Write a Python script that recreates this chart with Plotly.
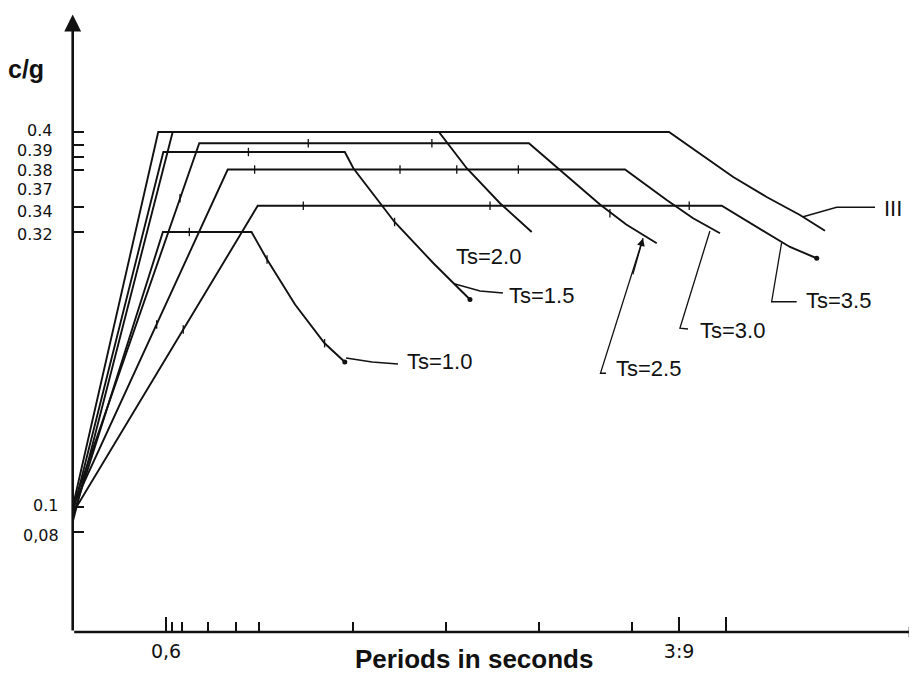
import plotly.graph_objects as go

# ---------------- data (period T in s, c/g) ----------------
t_10 = [0, 0.58, 1.15, 1.25, 1.43, 1.62, 1.75]
c_10 = [0.092, 0.32, 0.32, 0.298, 0.262, 0.231, 0.216]

t_15 = [0, 0.583, 1.75, 1.805, 2.07, 2.32, 2.555]
c_15 = [0.095, 0.384, 0.384, 0.371, 0.328, 0.295, 0.266]

t_20 = [0, 0.55, 2.355, 2.534, 2.748, 2.952]
c_20 = [0.10, 0.40, 0.40, 0.371, 0.343, 0.32]

t_25 = [0, 0.814, 2.934, 3.177, 3.391, 3.56, 3.756]
c_25 = [0.10, 0.391, 0.391, 0.365, 0.342, 0.326, 0.311]

t_30 = [0, 0.997, 3.552, 3.82, 3.99, 4.163]
c_30 = [0.10, 0.37, 0.37, 0.3456, 0.331, 0.319]

t_35 = [0, 1.19, 4.174, 4.463, 4.613, 4.785]
c_35 = [0.095, 0.341, 0.341, 0.319, 0.308, 0.299]

t_III = [0, 0.643, 3.835, 4.034, 4.248, 4.463, 4.677, 4.838]
c_III = [0.088, 0.40, 0.40, 0.383, 0.364, 0.348, 0.3336, 0.321]

# small computed-point marks on the curves
mk_10_t = [0.75, 1.25, 1.62]
mk_10_c = [0.32, 0.298, 0.231]
mk_15_t = [1.13, 2.07]
mk_15_c = [0.384, 0.328]
mk_25_t = [0.69, 1.515, 2.31, 3.455]
mk_25_c = [0.347, 0.391, 0.391, 0.335]
mk_30_t = [0.54, 1.17, 2.105, 2.47, 2.866]
mk_30_c = [0.246, 0.37, 0.37, 0.37, 0.37]
mk_35_t = [0.711, 1.483, 2.684, 3.965]
mk_35_c = [0.242, 0.341, 0.341, 0.341]

# axis ticks
y_tick_vals = [0.4, 0.39, 0.38, 0.37, 0.34, 0.32, 0.1, 0.08]
y_tick_text = ["0.4", "0.39", "0.38", "0.37", "0.34", "0.32", "0.1", "0,08"]
x_major_vals = [0.6, 3.9, 4.2]
x_major_text = ["0,6", "3:9", ""]
x_minor_vals = [0.64, 0.70, 0.87, 1.05, 1.2, 1.8, 2.4, 3.0, 3.6]

curve_names = ["Ts=1.0", "Ts=1.5", "Ts=2.0", "Ts=2.5", "Ts=3.0", "Ts=3.5", "III"]

# ---------------- figure ----------------
fig = go.Figure()
BLACK = "#111111"

curves = [(t_10, c_10), (t_15, c_15), (t_20, c_20), (t_25, c_25),
          (t_30, c_30), (t_35, c_35), (t_III, c_III)]
for name, (tt, cc) in zip(curve_names, curves):
    fig.add_trace(go.Scatter(x=tt, y=cc, mode="lines", name=name,
                             line=dict(color=BLACK, width=1.9),
                             showlegend=False, hoverinfo="skip"))

for tt, cc in [(mk_10_t, mk_10_c), (mk_15_t, mk_15_c), (mk_25_t, mk_25_c),
               (mk_30_t, mk_30_c), (mk_35_t, mk_35_c)]:
    fig.add_trace(go.Scatter(x=tt, y=cc, mode="markers", showlegend=False,
                             marker=dict(symbol="line-ns", size=6,
                                         line=dict(color=BLACK, width=1.3)),
                             hoverinfo="skip"))

# end dots
end_t = [t_10[-1], t_15[-1], t_35[-1]]
end_c = [c_10[-1], c_15[-1], c_35[-1]]
fig.add_trace(go.Scatter(x=end_t, y=end_c, mode="markers", showlegend=False,
                         marker=dict(symbol="circle", size=5, color=BLACK),
                         hoverinfo="skip"))

# leader lines (data coordinates)
leaders = [
    ([1.758, 1.925, 2.092], [0.2192, 0.216, 0.2144]),          # Ts=1.0
    ([2.459, 2.62, 2.767], [0.2784, 0.2728, 0.2712]),          # Ts=1.5
    ([3.668, 3.394, 3.43], [0.315, 0.207, 0.207]),              # Ts=2.5
    ([4.098, 3.905, 3.957], [0.3208, 0.243, 0.2424]),          # Ts=3.0
    ([4.559, 4.495, 4.656], [0.3114, 0.2642, 0.2642]),         # Ts=3.5
    ([4.698, 4.913, 5.16], [0.3322, 0.3398, 0.3398]),          # III
]
for lx, ly in leaders:
    fig.add_trace(go.Scatter(x=lx, y=ly, mode="lines", showlegend=False,
                             line=dict(color=BLACK, width=1.3),
                             hoverinfo="skip"))

# curve labels
label_pos = {
    "Ts=1.0": (2.362, 0.2162),
    "Ts=1.5": (3.012, 0.2696),
    "Ts=2.0": (2.677, 0.3002),
    "Ts=2.5": (3.706, 0.211),
    "Ts=3.0": (4.246, 0.2416),
    "Ts=3.5": (4.922, 0.2656),
    "III": (5.275, 0.339),
}
annotations = []
for name in curve_names:
    x, y = label_pos[name]
    annotations.append(dict(x=x, y=y, xref="x", yref="y", text=name,
                            showarrow=False,
                            font=dict(family="Liberation Sans, Arial", size=22,
                                      color=BLACK)))

# arrowhead on Ts=2.5 leader
annotations.append(dict(x=3.668, y=0.315, ax=3.60, ay=0.285, xref="x", yref="y",
                        axref="x", ayref="y", text="", showarrow=True,
                        arrowhead=2, arrowsize=1.2, arrowwidth=1.3,
                        arrowcolor=BLACK))

# axes with arrows
annotations.append(dict(x=0, y=0.494, ax=0, ay=0, xref="x", yref="y",
                        axref="x", ayref="y", text="", showarrow=True,
                        arrowhead=2, arrowsize=1.3, arrowwidth=2.6,
                        arrowcolor=BLACK))
annotations.append(dict(x=5.41, y=0, ax=0, ay=0, xref="x", yref="y",
                        axref="x", ayref="y", text="", showarrow=True,
                        arrowhead=7, arrowsize=1.0, arrowwidth=2.6,
                        arrowcolor=BLACK))

# y tick labels (spread apart where the ticks are close)
y_label_shift = [2, -6, -13, -20, -4, -2, 2, -3]
y_label_xshift = [-19, -18, -18, -18, -18, -18, -13, -12]
for v, txt, ys, xs in zip(y_tick_vals, y_tick_text, y_label_shift, y_label_xshift):
    annotations.append(dict(x=0, y=v, xref="x", yref="y", text=txt,
                            showarrow=False, xanchor="right", yanchor="middle",
                            xshift=xs, yshift=ys,
                            font=dict(family="DejaVu Sans", size=16, color=BLACK)))

# axis titles (paper coordinates)
annotations.append(dict(x=-0.054, y=0.905, xref="paper", yref="paper",
                        text="<b>c/g</b>", showarrow=False,
                        xanchor="center", yanchor="middle",
                        font=dict(family="Liberation Sans, Arial", size=25,
                                  color=BLACK)))
annotations.append(dict(x=0.477, y=-0.043, xref="paper", yref="paper",
                        text="<b>Periods in seconds</b>", showarrow=False,
                        xanchor="center", yanchor="middle",
                        font=dict(family="Liberation Sans, Arial", size=26,
                                  color=BLACK)))

fig.update_layout(
    width=909, height=666,
    margin=dict(l=64, r=2, t=2, b=42),
    paper_bgcolor="white", plot_bgcolor="white",
    annotations=annotations,
    xaxis=dict(range=[-0.0045, 5.417], showgrid=False, zeroline=False,
               showline=False, tickmode="array", tickvals=x_major_vals,
               ticktext=x_major_text, ticks="inside", ticklen=15, tickwidth=1.6,
               tickcolor=BLACK, ticklabelstandoff=6,
               tickfont=dict(family="DejaVu Sans", size=19, color=BLACK),
               minor=dict(tickmode="array", tickvals=x_minor_vals,
                          ticks="inside", ticklen=10, tickwidth=1.6,
                          tickcolor=BLACK)),
    yaxis=dict(range=[0, 0.4976], showgrid=False, zeroline=False,
               showline=False, tickmode="array", tickvals=y_tick_vals,
               ticks="inside", ticklen=12, tickwidth=2, tickcolor=BLACK,
               showticklabels=False),
)

fig.write_html("out.html")
